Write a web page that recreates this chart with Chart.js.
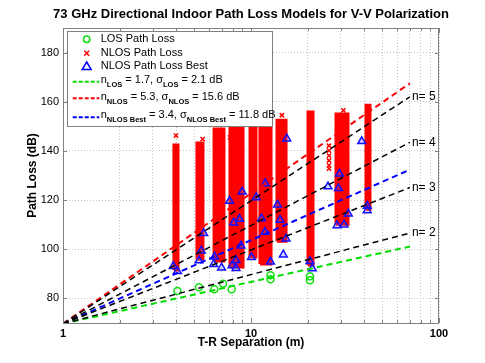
<!DOCTYPE html>
<html>
<head>
<meta charset="utf-8">
<script src="https://cdn.jsdelivr.net/npm/chart.js@4"></script>
<style>
html, body { margin: 0; padding: 0; background: #fff; }
#wrap { width: 485px; height: 363px; position: relative; }
</style>
</head>
<body>
<div id="wrap"><canvas id="c"></canvas></div>
<script>
// LOS measurements: T-R distance (m) / path loss (dB)
const losDist = [4.06, 5.29, 6.38, 7.10, 7.89, 12.7, 12.7, 20.6, 20.6];
const losPL   = [83.0, 84.5, 83.7, 86.0, 83.7, 89.4, 87.8, 89.0, 87.4];

// NLOS best pointing angle
const bestDist = [3.86, 4.06, 5.29, 5.44, 5.60, 6.40, 6.33, 6.97, 7.69, 8.09, 8.69, 8.98, 7.93, 8.32, 8.32, 8.85,
                  10.06, 10.67, 11.37, 11.90, 11.87, 12.70, 13.83, 14.27, 15.36, 14.85, 20.6, 21.18,
                  25.68, 29.2, 28.68, 31.23, 32.93, 41.5, 41.5, 29.56, 15.50, 38.81];
const bestPL   = [93.1, 91.1, 95.4, 99.4, 106.5, 96.9, 93.9, 92.5, 119.6, 110.8, 112.3, 123.4, 93.4, 95.5, 92.3, 101.4,
                  96.7, 121.1, 112.5, 126.7, 107.0, 94.9, 118.1, 111.9, 104.3, 97.8, 95.1, 92.2,
                  125.5, 124.8, 109.7, 110.0, 114.4, 117.6, 115.8, 130.7, 145.0, 143.9];

// NLOS: dense columns of points (distance span, path loss span)
const nlosDistLo = [3.89, 5.16, 6.36, 7.73, 9.88, 11.16, 13.75, 20.1, 28.32, 40.9];
const nlosDistHi = [4.09, 5.55, 7.18, 9.07, 10.63, 12.78, 15.36, 21.37, 32.8, 42.95];
const nlosMin    = [91.6, 96.0, 95.2, 92.8, 96.8, 94.0, 103.3, 93.6, 110.2, 116.3];
const nlosMax    = [142.4, 143.2, 148.9, 154.0, 154.0, 154.0, 152.5, 155.8, 155.0, 158.6];
// NLOS: scattered points
const nlosOutDist = [3.99, 5.53, 7.73, 14.6, 26.0, 26.0, 26.0, 26.0, 26.0, 26.0, 31.0];
const nlosOutPL   = [146.2, 144.8, 145.5, 154.5, 142.1, 140.1, 138.1, 136.1, 134.1, 132.8, 156.5];

// path loss model lines (1 m to 70 m)
const lineDist = [1, 70];
const refNames = ['n= 2', 'n= 3', 'n= 4', 'n= 5'];
const refPL    = [[69.7, 106.6], [69.7, 125.1], [69.7, 143.5], [69.7, 162.0]];
const losFit   = [69.7, 101.1];
const nlosFit  = [69.7, 167.5];
const bestFit  = [69.7, 132.4];

// axes
const xTicks = [1, 2, 3, 4, 5, 6, 7, 8, 9, 10, 20, 30, 40, 50, 60, 70, 80, 90, 100];
const xLabeled = [1, 10, 100];
const yTicks = [80, 100, 120, 140, 160, 180];

const FONT = '"Liberation Sans", Arial, sans-serif';
const pts = (xs, ys) => xs.map((d, i) => ({ x: d, y: ys[i] }));

const datasets = [];
// drawn last-to-first, so lines first keeps them on top
refPL.forEach((pl, i) => datasets.push({
    label: refNames[i], data: pts(lineDist, pl), showLine: true,
    borderColor: '#000', borderWidth: 1.5, borderDash: [6, 4], pointRadius: 0
}));
datasets.push({ label: 'LOS fit', data: pts(lineDist, losFit), showLine: true,
    borderColor: '#00e000', borderWidth: 2, borderDash: [6, 4], pointRadius: 0 });
datasets.push({ label: 'NLOS fit', data: pts(lineDist, nlosFit), showLine: true,
    borderColor: '#ff0000', borderWidth: 2, borderDash: [6, 4], pointRadius: 0 });
datasets.push({ label: 'NLOS best fit', data: pts(lineDist, bestFit), showLine: true,
    borderColor: '#0000ff', borderWidth: 2, borderDash: [6, 4], pointRadius: 0 });
datasets.push({ label: 'NLOS Path Loss Best', data: pts(bestDist, bestPL),
    pointStyle: 'triangle', pointRadius: 4.5, borderWidth: 1.5,
    borderColor: '#1010ff', backgroundColor: 'rgba(90,90,255,0.25)' });
datasets.push({ label: 'LOS Path Loss', data: pts(losDist, losPL),
    pointStyle: 'circle', pointRadius: 3.5, borderWidth: 1.5,
    borderColor: '#10e010', backgroundColor: 'rgba(0,0,0,0)' });
datasets.push({ label: 'NLOS outliers', data: pts(nlosOutDist, nlosOutPL),
    pointStyle: 'crossRot', pointRadius: 3, borderWidth: 1.5, borderColor: '#ff0000' });
nlosDistLo.forEach((lo, i) => {
    const hi = nlosDistHi[i];
    datasets.push({
        label: 'NLOS Path Loss', showLine: true, fill: 'shape',
        data: [{ x: lo, y: nlosMin[i] }, { x: lo, y: nlosMax[i] }, { x: hi, y: nlosMax[i] }, { x: hi, y: nlosMin[i] }, { x: lo, y: nlosMin[i] }],
        borderColor: '#ff0000', backgroundColor: '#ff0000', borderWidth: 3, pointRadius: 0
    });
});

function richText(ctx, parts, x, y) {
    parts.forEach(p => {
        ctx.font = p.sub ? 'bold 7.5px ' + FONT : '11px ' + FONT;
        ctx.fillText(p.t, x, p.sub ? y + 5 : y);
        x += ctx.measureText(p.t).width;
    });
}

const decor = {
    id: 'decor',
    afterDatasetsDraw(chart) {
        const { ctx, chartArea: a, scales: { x, y } } = chart;
        ctx.save();
        // box and inward ticks
        ctx.strokeStyle = '#808080';
        ctx.lineWidth = 1;
        ctx.strokeRect(a.left + 0.5, a.top + 0.5, a.right - a.left - 1, a.bottom - a.top);
        ctx.beginPath();
        xTicks.forEach(v => {
            const px = Math.round(x.getPixelForValue(v)) + 0.5;
            const len = xLabeled.includes(v) ? 5 : 3;
            ctx.moveTo(px, a.bottom); ctx.lineTo(px, a.bottom - len);
            ctx.moveTo(px, a.top); ctx.lineTo(px, a.top + len);
        });
        yTicks.forEach(v => {
            const py = Math.round(y.getPixelForValue(v)) + 0.5;
            ctx.moveTo(a.left, py); ctx.lineTo(a.left + 4, py);
            ctx.moveTo(a.right, py); ctx.lineTo(a.right - 4, py);
        });
        ctx.stroke();

        // exponent labels at line ends
        ctx.fillStyle = '#000';
        ctx.font = '12px ' + FONT;
        ctx.textBaseline = 'middle';
        ctx.textAlign = 'left';
        refPL.forEach((pl, i) => {
            ctx.fillText(refNames[i], x.getPixelForValue(lineDist[1]) + 2, y.getPixelForValue(pl[1]));
        });

        // legend box
        const L = 67.5, T = 31.5, W = 205, H = 95;
        ctx.fillStyle = '#fff';
        ctx.fillRect(L, T, W, H);
        ctx.strokeStyle = '#808080';
        ctx.strokeRect(L, T, W, H);
        const mx = 86.7, tx = 100.7;
        ctx.lineWidth = 1.5;
        ctx.strokeStyle = '#10e010';
        ctx.beginPath(); ctx.arc(mx, 39.3, 3.2, 0, Math.PI * 2); ctx.stroke();
        ctx.strokeStyle = '#ff0000';
        ctx.beginPath();
        ctx.moveTo(mx - 2.5, 50.8); ctx.lineTo(mx + 2.5, 55.8);
        ctx.moveTo(mx + 2.5, 50.8); ctx.lineTo(mx - 2.5, 55.8);
        ctx.stroke();
        ctx.strokeStyle = '#0000ff';
        ctx.beginPath();
        ctx.moveTo(mx, 62); ctx.lineTo(mx + 4.5, 69.5); ctx.lineTo(mx - 4.5, 69.5); ctx.closePath();
        ctx.stroke();
        [['#00e000', 81.7], ['#ff0000', 98.3], ['#0000ff', 117.3]].forEach(([c, yy]) => {
            ctx.strokeStyle = c; ctx.lineWidth = 2; ctx.setLineDash([4, 2]);
            ctx.beginPath(); ctx.moveTo(72.7, yy); ctx.lineTo(99.3, yy); ctx.stroke();
        });
        ctx.setLineDash([]);
        ctx.fillStyle = '#000';
        ctx.font = '11px ' + FONT;
        ctx.fillText('LOS Path Loss', tx, 39.3);
        ctx.fillText('NLOS Path Loss', tx, 53.3);
        ctx.fillText('NLOS Path Loss Best', tx, 66);
        richText(ctx, [{ t: 'n' }, { t: 'LOS', sub: true }, { t: ' = 1.7, \u03c3' }, { t: 'LOS', sub: true }, { t: ' = 2.1 dB' }], tx, 80);
        richText(ctx, [{ t: 'n' }, { t: 'NLOS', sub: true }, { t: ' = 5.3, \u03c3' }, { t: 'NLOS', sub: true }, { t: ' = 15.6 dB' }], tx, 96.7);
        richText(ctx, [{ t: 'n' }, { t: 'NLOS Best', sub: true }, { t: ' = 3.4, \u03c3' }, { t: 'NLOS Best', sub: true }, { t: ' = 11.8 dB' }], tx, 115);
        ctx.restore();
    },
    afterDraw(chart) {
        const { ctx, chartArea: a } = chart;
        const cx = (a.left + a.right) / 2;
        ctx.save();
        ctx.fillStyle = '#000';
        ctx.textAlign = 'center';
        ctx.textBaseline = 'middle';
        ctx.font = 'bold 13px ' + FONT;
        ctx.fillText('73 GHz Directional Indoor Path Loss Models for V-V Polarization', cx, 14);
        ctx.font = 'bold 12px ' + FONT;
        ctx.fillText('T-R Separation (m)', cx, 343);
        ctx.translate(33, (a.top + a.bottom) / 2);
        ctx.rotate(-Math.PI / 2);
        ctx.fillText('Path Loss (dB)', 0, 0);
        ctx.restore();
    }
};

new Chart(document.getElementById('c'), {
    type: 'scatter',
    data: { datasets },
    options: {
        responsive: true,
        maintainAspectRatio: false,
        animation: false,
        layout: { padding: { left: 0, top: 28, right: 46, bottom: 0 } },
        plugins: { legend: { display: false }, tooltip: { enabled: false } },
        elements: { line: { tension: 0 } },
        scales: {
            x: {
                type: 'logarithmic', min: 1, max: 100,
                afterBuildTicks: s => { s.ticks = xTicks.map(v => ({ value: v })); },
                afterFit: s => { s.height = 40; },
                ticks: {
                    autoSkip: false, maxRotation: 0, padding: 4, color: '#000',
                    font: { family: FONT, size: 11, weight: 'bold' },
                    callback: v => xLabeled.includes(v) ? String(v) : ''
                },
                grid: { color: '#c4c4c4', drawTicks: false },
                border: { display: false, dash: [1, 2] }
            },
            y: {
                type: 'linear', min: 70, max: 190,
                afterBuildTicks: s => { s.ticks = yTicks.map(v => ({ value: v })); },
                afterFit: s => { s.width = 63; },
                ticks: { padding: 4, color: '#000', font: { family: FONT, size: 11 } },
                grid: { color: '#c4c4c4', drawTicks: false },
                border: { display: false, dash: [1, 2] }
            }
        }
    },
    plugins: [decor]
});
</script>
</body>
</html>
